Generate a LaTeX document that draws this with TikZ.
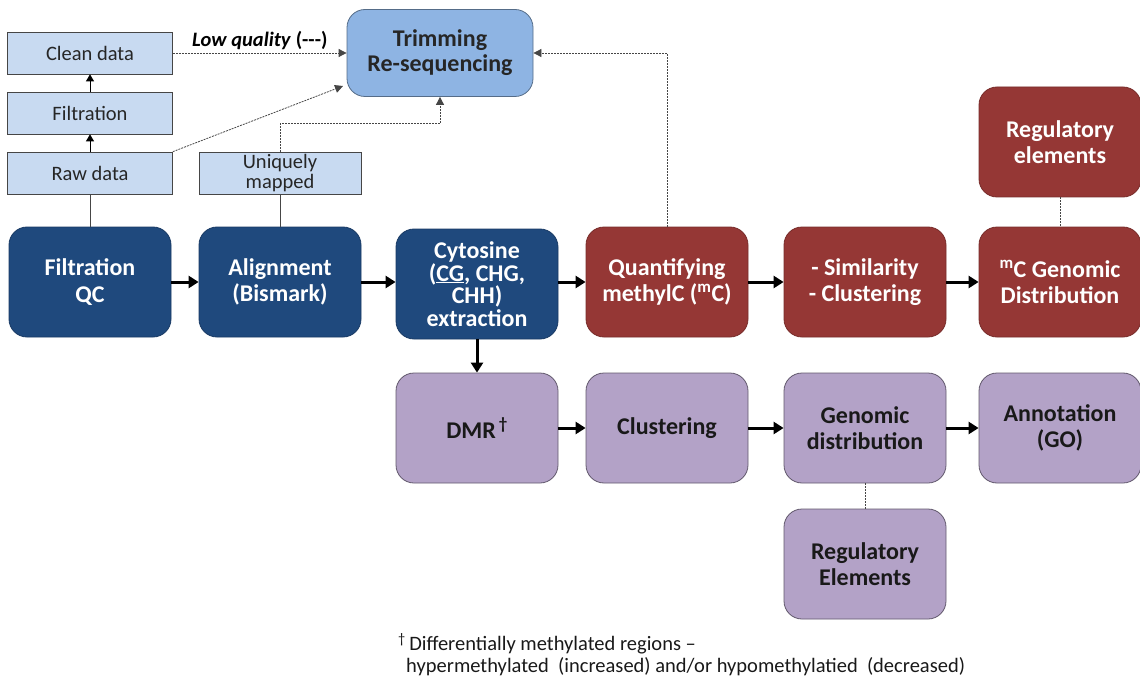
\documentclass[tikz,border=0pt]{standalone}
\usepackage{fontspec}
\setmainfont{Carlito}
\usetikzlibrary{arrows.meta}

\definecolor{stageblue}{RGB}{31,73,125}
\definecolor{stagered}{RGB}{149,55,53}
\definecolor{stagelilac}{RGB}{179,162,199}
\definecolor{datablue}{RGB}{200,218,241}
\definecolor{trimblue}{RGB}{142,180,227}
\definecolor{linegray}{RGB}{70,70,70}

\tikzset{
  stage/.style={rounded corners=18pt, minimum width=162pt, minimum height=110pt,
    inner sep=2pt, align=center, line width=0.8pt,
    font=\fontsize{24}{26.5}\selectfont\bfseries},
  bluestage/.style={stage, fill=stageblue, draw=stageblue!80!black, text=white},
  redstage/.style={stage, fill=stagered, draw=stagered!80!black, text=white},
  lilacstage/.style={stage, fill=stagelilac, draw=stagelilac!55!black, text=black!90},
  databox/.style={fill=datablue, draw=linegray, line width=0.7pt, minimum width=165pt,
    minimum height=42pt, inner sep=1pt, align=center, text=black!85,
    font=\fontsize{20.5}{20.5}\selectfont},
  trimbox/.style={stage, fill=trimblue, draw=trimblue!60!black, minimum width=186pt,
    minimum height=87pt, text=black!85, font=\fontsize{24}{25}\selectfont\bfseries},
  flow/.style={line width=3pt, -{Triangle[length=10pt,width=12pt]}},
  lift/.style={line width=1pt, -{Triangle[length=7pt,width=8pt]}},
  link/.style={draw=linegray, line width=0.8pt, dash pattern=on 2pt off 1pt,
    -{Triangle[length=8pt,width=8pt]}},
  tie/.style={draw=linegray, line width=0.8pt, dash pattern=on 2pt off 1pt},
  stem/.style={draw=linegray, line width=0.8pt}
}

\begin{document}
\begin{tikzpicture}[x=1pt, y=-1pt]
\useasboundingbox (0,0) rectangle (1140,679);

% data boxes on the left
\node[databox] (clean) at (90,53) {Clean data};
\node[databox] (filt) at (90,113) {Filtration};
\node[databox] (raw) at (90,173) {Raw data};
\node[databox, minimum width=162pt] (uniq) at (280,173) {Uniquely\\mapped};
\node[trimbox] (trim) at (440,53) {Trimming\\Re-sequencing};

% main row
\node[bluestage] (fqc) at (90,282) {Filtration\\QC};
\node[bluestage] (align) at (280,282) {Alignment\\(Bismark)};
\node[bluestage, font=\fontsize{24}{22.5}\selectfont\bfseries] (cyto) at (477,284)
  {Cytosine\\(\underline{CG}, CHG,\\CHH)\\extraction};
\node[redstage] (quant) at (667,282) {Quantifying\\methylC (\textsuperscript{m}C)};
\node[redstage] (simil) at (865,282) {- Similarity\\- Clustering};
\node[redstage] (mcgen) at (1060,282) {\textsuperscript{m}C Genomic\\Distribution};
\node[redstage] (regtop) at (1060,142) {Regulatory\\elements};

% DMR row
\node[lilacstage] (dmr) at (477,428) {DMR\textsuperscript{\,\dag}};
\node[lilacstage] (clus) at (667,428) {Clustering};
\node[lilacstage] (gdist) at (865,428) {Genomic\\distribution};
\node[lilacstage] (annot) at (1060,428) {Annotation\\(GO)};
\node[lilacstage] (regbot) at (865,564) {Regulatory\\Elements};

% solid flow
\draw[flow] (fqc) -- (align);
\draw[flow] (align) -- (cyto.west |- align);
\draw[flow] (cyto.east |- quant) -- (quant);
\draw[flow] (quant) -- (simil);
\draw[flow] (simil) -- (mcgen);
\draw[flow] (cyto) -- (dmr);
\draw[flow] (dmr) -- (clus);
\draw[flow] (clus) -- (gdist);
\draw[flow] (gdist) -- (annot);

\draw[lift] (raw) -- (filt);
\draw[lift] (filt) -- (clean);
\draw[stem] (raw) -- (fqc);
\draw[stem] (uniq) -- (align);

% dashed links to trimming
\coordinate (rawend) at (343,86);
\draw[link] (clean) -- node[above=0pt, text=black, font=\fontsize{20.5}{20}\selectfont]
  {\textbf{\textit{Low quality}} \textbf{(-{}-{}-)}} (trim);
\draw[link] (raw.north east) -- (rawend);
\draw[link] (uniq.north) -- ++(0,-28) -| (trim.south);
\draw[link] (quant.north) |- (trim.east);
\draw[tie] (regtop) -- (mcgen);
\draw[tie] (gdist) -- (regbot);

% footnote
\node[anchor=north west, align=left, inner sep=0pt, text=black!90,
  font=\fontsize{20.5}{22}\selectfont] (note) at (398,633)
  {\textsuperscript{\dag}\,Differentially methylated regions --\\
   \hspace*{8pt}hypermethylated\ \ (increased) and/or hypomethylatied\ \ (decreased)};
\end{tikzpicture}
\end{document}
